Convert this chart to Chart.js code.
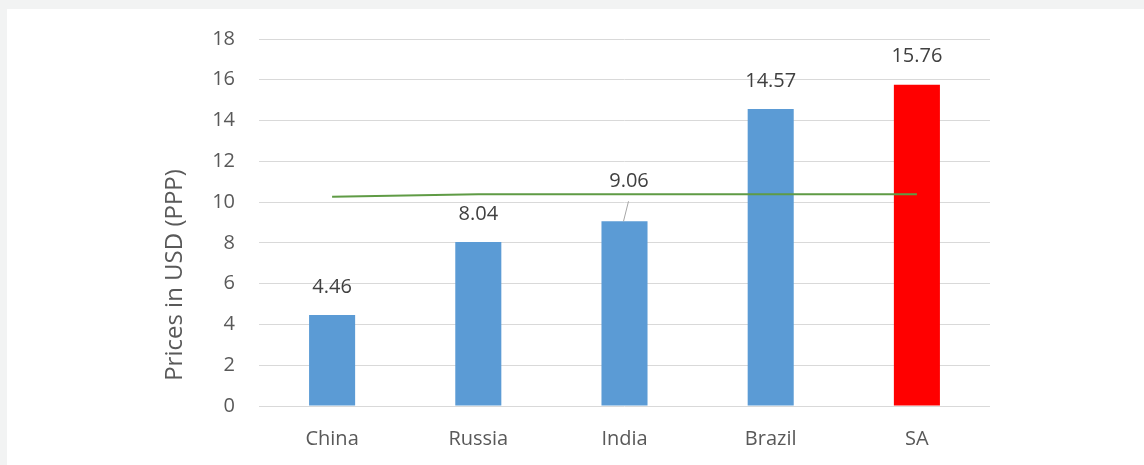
<!DOCTYPE html>
<html>
<head>
<meta charset="utf-8">
<script src="https://cdn.jsdelivr.net/npm/chart.js@4/dist/chart.umd.min.js"></script>
<style>
  html, body { margin: 0; padding: 0; background: #f2f3f3; }
  body { width: 1144px; height: 465px; overflow: hidden; position: relative; }
  #caixa { position: absolute; left: 7px; top: 9px; width: 1137px; height: 456px; background: #fff; }
</style>
</head>
<body>
<div id="caixa"><canvas id="grafico" width="1137" height="456"></canvas></div>
<script>
// dados
const paises = ['China', 'Russia', 'India', 'Brazil', 'SA'];
const precos = [4.46, 8.04, 9.06, 14.57, 15.76];
const media = [10.26, 10.38, 10.38, 10.38, 10.38];
const coresBarras = ['#5b9bd5', '#5b9bd5', '#5b9bd5', '#5b9bd5', '#ff0000'];
const tituloY = 'Prices in USD (PPP)';

const fonte = '"Open Sans", "Noto Sans", sans-serif';

// rótulos de valor acima das barras (India fica deslocado com linha guia)
const rotulos = {
  id: 'rotulos',
  afterDatasetsDraw(chart) {
    const ctx = chart.ctx;
    const meta = chart.getDatasetMeta(1);
    ctx.save();
    ctx.font = '20px ' + fonte;
    ctx.fillStyle = '#404040';
    ctx.textAlign = 'center';
    ctx.textBaseline = 'middle';
    meta.data.forEach((barra, i) => {
      const valor = precos[i].toFixed(2);
      if (paises[i] === 'India') {
        ctx.fillText(valor, barra.x + 4.5, barra.y - 40);
        ctx.strokeStyle = '#a6a6a6';
        ctx.lineWidth = 1;
        ctx.beginPath();
        ctx.moveTo(barra.x + 4, barra.y - 20);
        ctx.lineTo(barra.x - 1, barra.y);
        ctx.stroke();
      } else {
        ctx.fillText(valor, barra.x, barra.y - 28);
      }
    });
    // título do eixo y
    ctx.fillStyle = '#595959';
    ctx.font = '24px ' + fonte;
    ctx.translate(168, 266);
    ctx.rotate(-Math.PI / 2);
    ctx.fillText(tituloY, 0, 0);
    ctx.restore();
  }
};

new Chart(document.getElementById('grafico'), {
  data: {
    labels: paises,
    datasets: [
      {
        type: 'line',
        data: media,
        borderColor: '#5f9b45',
        borderWidth: 2,
        pointRadius: 0,
        tension: 0,
        order: 0
      },
      {
        type: 'bar',
        data: precos,
        backgroundColor: coresBarras,
        barPercentage: 0.315,
        categoryPercentage: 1,
        order: 1
      }
    ]
  },
  options: {
    responsive: false,
    animation: false,
    layout: { padding: { left: 150, right: 154, top: 30, bottom: 0 } },
    plugins: {
      legend: { display: false },
      tooltip: { enabled: false }
    },
    scales: {
      x: {
        grid: { display: false },
        border: { display: false },
        ticks: {
          color: '#595959',
          font: { family: fonte, size: 20 },
          padding: 13
        },
        afterFit(eixo) { eixo.height = 59; }
      },
      y: {
        min: 0,
        max: 18,
        grid: { color: '#d9d9d9', lineWidth: 1, drawTicks: false },
        border: { display: false },
        ticks: {
          stepSize: 2,
          color: '#595959',
          font: { family: fonte, size: 20 },
          padding: 24
        },
        afterFit(eixo) {
          eixo.width = 102;
          eixo.paddingTop = 0;
          eixo.paddingBottom = 0;
        }
      }
    }
  },
  plugins: [rotulos]
});
</script>
</body>
</html>
